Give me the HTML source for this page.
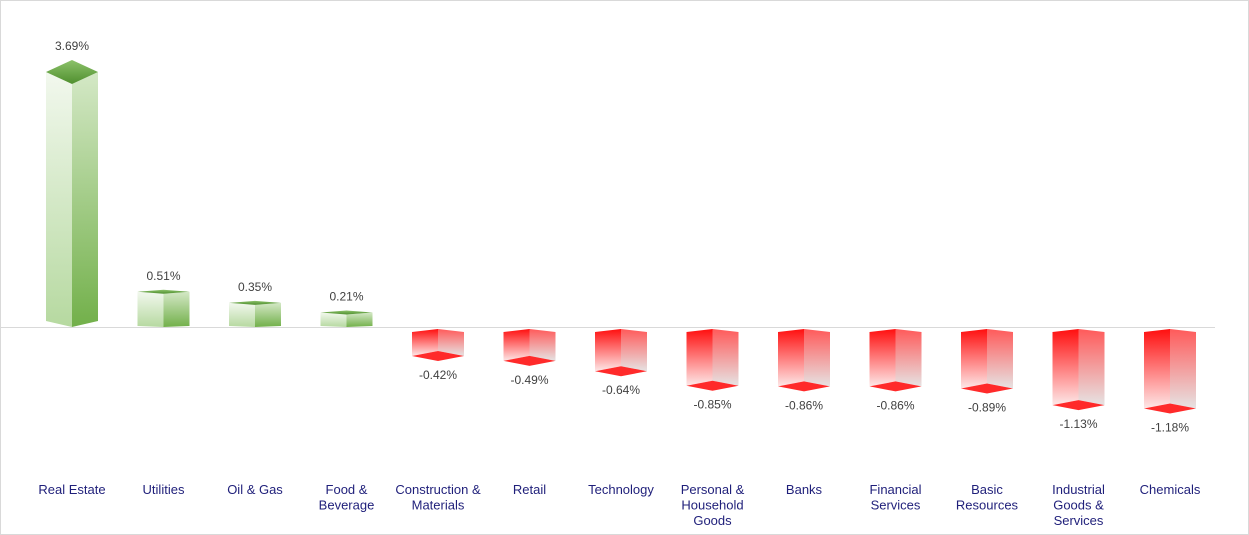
<!DOCTYPE html>
<html><head><style>
body{margin:0;background:#fff;}
svg{display:block;font-family:"Liberation Sans",Arial,sans-serif;}
</style></head><body>
<svg width="1249" height="535" viewBox="0 0 1249 535">
<defs>
<linearGradient id="gl" x1="0" y1="0" x2="0" y2="1"><stop offset="0" stop-color="#f2f8ee"/><stop offset="1" stop-color="#b6d9a0"/></linearGradient>
<linearGradient id="gr" x1="0" y1="0" x2="0" y2="1"><stop offset="0" stop-color="#d4e8c6"/><stop offset="1" stop-color="#72b04a"/></linearGradient>
<linearGradient id="gt" x1="0" y1="0" x2="0" y2="1"><stop offset="0" stop-color="#8cc26a"/><stop offset="1" stop-color="#4f8f2e"/></linearGradient>
<linearGradient id="rl" x1="0" y1="0" x2="0" y2="1"><stop offset="0" stop-color="#ff0f0f"/><stop offset="1" stop-color="#fde8e8"/></linearGradient>
<linearGradient id="rr" x1="0" y1="0" x2="0" y2="1"><stop offset="0" stop-color="#ff5a5a"/><stop offset="1" stop-color="#e6e3e3"/></linearGradient>
</defs>
<rect x="0.5" y="0.5" width="1248" height="534" fill="#fff" stroke="#d9d9d9"/>
<line x1="0" y1="327.5" x2="1215" y2="327.5" stroke="#d9d9d9" stroke-width="1"/>
<g id="bars"></g>
<g font-size="12" fill="#404040" text-anchor="middle" id="vals"></g>
<g font-size="13" fill="#1f1f7a" text-anchor="middle" id="cats"></g>
</svg>
<script>
var data=[["Real Estate",3.69],["Utilities",0.51],["Oil & Gas",0.35],["Food &|Beverage",0.21],["Construction &|Materials",-0.42],["Retail",-0.49],["Technology",-0.64],["Personal &|Household|Goods",-0.85],["Banks",-0.86],["Financial|Services",-0.86],["Basic|Resources",-0.89],["Industrial|Goods &|Services",-1.13],["Chemicals",-1.18]];
var NS="http://www.w3.org/2000/svg",B=327,S=69.1;
function el(p,t,a,txt){var e=document.createElementNS(NS,t);for(var k in a)e.setAttribute(k,a[k]);if(txt!=null)e.textContent=txt;document.getElementById(p).appendChild(e);}
data.forEach(function(d,i){
 var xc=72+i*91.5,x0=xc-26,x1=xc+26,v=d[1];
 if(v>0){var t=B-v*S,dd=v>1?12:2;
  el("bars","polygon",{points:[x0,t,xc,t+dd,xc,B,x0,B-dd/2].join(" "),fill:"url(#gl)"});
  el("bars","polygon",{points:[xc,t+dd,x1,t,x1,B-dd/2,xc,B].join(" "),fill:"url(#gr)"});
  el("bars","polygon",{points:[x0,t,xc,t-dd,x1,t,xc,t+dd].join(" "),fill:"url(#gt)"});
  el("vals","text",{x:xc,y:t-dd-10},v.toFixed(2)+"%");
 }else{var b=B-v*S,dd=5;
  el("bars","polygon",{points:[x0,B+5,xc,B+2,xc,b-dd,x0,b].join(" "),fill:"url(#rl)"});
  el("bars","polygon",{points:[xc,B+2,x1,B+5,x1,b,xc,b-dd].join(" "),fill:"url(#rr)"});
  el("bars","polygon",{points:[x0,b,xc,b-dd,x1,b,xc,b+dd].join(" "),fill:"#ff2a2a"});
  el("vals","text",{x:xc,y:b+23},v.toFixed(2)+"%");
 }
 d[0].split("|").forEach(function(l,j){el("cats","text",{x:xc,y:494+j*15.5},l);});
});
</script>
</body></html>
